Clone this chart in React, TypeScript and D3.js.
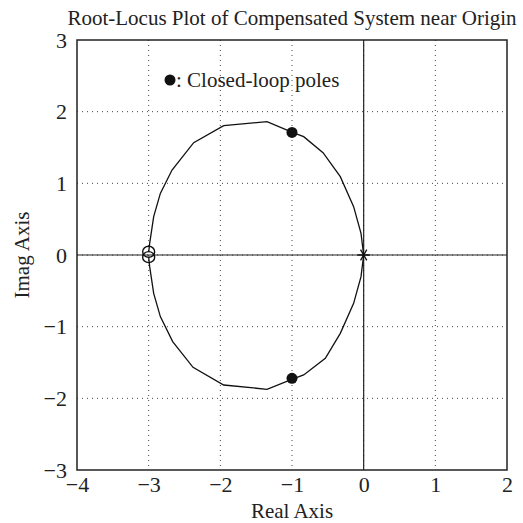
import { useEffect, useRef } from "react";
import * as d3 from "d3";

// root locus branch, upper half (real, imag)
const upperRe = [0, -0.037, -0.14, -0.326, -0.567, -0.837, -0.986, -1.349, -1.953, -2.372, -2.674, -2.837, -2.93, -2.986, -3.0];
const upperIm = [0, 0.302, 0.674, 1.093, 1.428, 1.651, 1.707, 1.86, 1.805, 1.567, 1.186, 0.86, 0.535, 0.163, 0.04];
// lower half
const lowerRe = [0, -0.037, -0.14, -0.326, -0.535, -0.837, -0.986, -1.349, -1.953, -2.381, -2.665, -2.837, -2.93, -2.986, -3.0];
const lowerIm = [0, -0.302, -0.674, -1.093, -1.442, -1.674, -1.73, -1.874, -1.814, -1.567, -1.209, -0.86, -0.535, -0.163, -0.03];

const zerosRe = [-3, -3];
const zerosIm = [0.045, -0.03];
const polesRe = [0];
const polesIm = [0];
const closedRe = [-1, -1];
const closedIm = [1.71, -1.72];

const xTicks = [-4, -3, -2, -1, 0, 1, 2];
const yTicks = [-3, -2, -1, 0, 1, 2, 3];

const titleText = "Root-Locus Plot of Compensated System near Origin";
const legendText = ": Closed-loop poles";

const fmt = (v: number) => (v < 0 ? "\u2212" + Math.abs(v) : String(v));

export default function App() {
  const svgRef = useRef<SVGSVGElement>(null);

  useEffect(() => {
    const width = 523;
    const height = 523;
    const margin = { top: 40, right: 16, bottom: 53, left: 77 };
    const w = 430;
    const h = 430;
    const font = "'Liberation Serif', 'Times New Roman', serif";
    const ink = "#222";

    const svg = d3.select(svgRef.current).attr("width", width).attr("height", height);
    svg.selectAll("*").remove();

    const x = d3.scaleLinear().domain([-4, 2]).range([0, w]);
    const y = d3.scaleLinear().domain([-3, 3]).range([h, 0]);

    const g = svg.append("g").attr("transform", `translate(${margin.left},${margin.top})`);

    // dotted grid
    g.selectAll(".gx")
      .data(xTicks.slice(1, -1))
      .join("line")
      .attr("x1", (d) => x(d))
      .attr("x2", (d) => x(d))
      .attr("y1", 0)
      .attr("y2", h)
      .attr("stroke", "#444")
      .attr("stroke-width", 1)
      .attr("stroke-dasharray", "1,4");
    g.selectAll(".gy")
      .data(yTicks.slice(1, -1))
      .join("line")
      .attr("y1", (d) => y(d))
      .attr("y2", (d) => y(d))
      .attr("x1", 0)
      .attr("x2", w)
      .attr("stroke", "#444")
      .attr("stroke-width", 1)
      .attr("stroke-dasharray", "1,4");

    // real / imag axes through origin
    g.append("line")
      .attr("x1", x(0)).attr("x2", x(0)).attr("y1", 0).attr("y2", h)
      .attr("stroke", ink).attr("stroke-width", 1.2);
    g.append("line")
      .attr("x1", 0).attr("x2", w).attr("y1", y(0)).attr("y2", y(0))
      .attr("stroke", ink).attr("stroke-width", 1.2);

    // tick labels
    const xAxis = d3.axisBottom(x).tickValues(xTicks).tickSize(0).tickPadding(6).tickFormat((d) => fmt(+d));
    const yAxis = d3.axisLeft(y).tickValues(yTicks).tickSize(0).tickPadding(10).tickFormat((d) => fmt(+d));
    const gx = g.append("g").attr("transform", `translate(0,${h})`).call(xAxis);
    const gy = g.append("g").call(yAxis);
    [gx, gy].forEach((a) => {
      a.select(".domain").remove();
      a.selectAll("text").attr("font-family", font).attr("font-size", 22).attr("fill", ink);
    });
    gy.selectAll("text").attr("dy", "0.33em");

    // frame
    g.append("rect")
      .attr("width", w).attr("height", h)
      .attr("fill", "none").attr("stroke", ink).attr("stroke-width", 1.5);

    // locus branches
    const line = d3.line<[number, number]>().x((d) => x(d[0])).y((d) => y(d[1]));
    const upper = upperRe.map((r, i) => [r, upperIm[i]] as [number, number]);
    const lower = lowerRe.map((r, i) => [r, lowerIm[i]] as [number, number]);
    g.selectAll(".branch")
      .data([upper, lower])
      .join("path")
      .attr("d", (d) => line(d))
      .attr("fill", "none")
      .attr("stroke", "#111")
      .attr("stroke-width", 1.3);

    // open-loop zeros
    g.selectAll(".zero")
      .data(zerosRe.map((r, i) => [r, zerosIm[i]]))
      .join("ellipse")
      .attr("cx", (d) => x(d[0]))
      .attr("cy", (d) => y(d[1]))
      .attr("rx", 6)
      .attr("ry", 5.5)
      .attr("fill", "none")
      .attr("stroke", "#111")
      .attr("stroke-width", 1.4);

    // open-loop poles (asterisk)
    const star = d3.symbol().type(d3.symbolAsterisk).size(110);
    g.selectAll(".pole")
      .data(polesRe.map((r, i) => [r, polesIm[i]]))
      .join("path")
      .attr("d", star() as string)
      .attr("transform", (d) => `translate(${x(d[0])},${y(d[1])}) rotate(90)`)
      .attr("fill", "none")
      .attr("stroke", "#111")
      .attr("stroke-width", 1.3);

    // closed-loop poles
    g.selectAll(".cl")
      .data(closedRe.map((r, i) => [r, closedIm[i]]))
      .join("circle")
      .attr("cx", (d) => x(d[0]))
      .attr("cy", (d) => y(d[1]))
      .attr("r", 5.5)
      .attr("fill", "#111");

    // legend
    g.append("circle").attr("cx", 93).attr("cy", 40).attr("r", 5.5).attr("fill", "#111");
    g.append("text")
      .attr("x", 99).attr("y", 47)
      .attr("font-family", font).attr("font-size", 21).attr("fill", ink)
      .text(legendText);

    // title & axis labels
    svg.append("text")
      .attr("x", margin.left + w / 2).attr("y", 25)
      .attr("text-anchor", "middle")
      .attr("font-family", font).attr("font-size", 21).attr("fill", ink)
      .text(titleText);
    svg.append("text")
      .attr("x", margin.left + w / 2).attr("y", 518)
      .attr("text-anchor", "middle")
      .attr("font-family", font).attr("font-size", 21).attr("fill", ink)
      .text("Real Axis");
    svg.append("text")
      .attr("transform", `translate(29,${margin.top + h / 2}) rotate(-90)`)
      .attr("text-anchor", "middle")
      .attr("font-family", font).attr("font-size", 21).attr("fill", ink)
      .text("Imag Axis");
  }, []);

  return <svg ref={svgRef} style={{ position: "absolute", left: 0, top: 0, background: "white" }} />;
}
